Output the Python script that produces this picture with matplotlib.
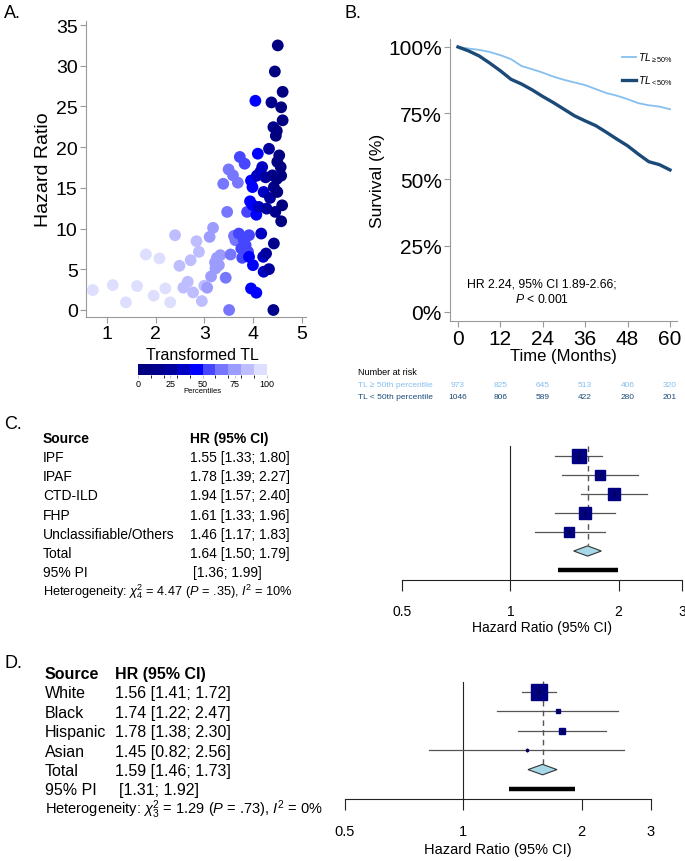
import numpy as np
import matplotlib
matplotlib.use("Agg")
import matplotlib.pyplot as plt
from matplotlib.colors import ListedColormap, BoundaryNorm
from matplotlib.cm import ScalarMappable
from matplotlib.lines import Line2D

plt.rcParams['font.family'] = ['Liberation Sans', 'DejaVu Sans']
plt.rcParams['mathtext.fontset'] = 'custom'
plt.rcParams['mathtext.rm'] = 'Liberation Sans'
plt.rcParams['mathtext.it'] = 'Liberation Sans:italic'
plt.rcParams['mathtext.bf'] = 'Liberation Sans:bold'

# ---- data: panel A (transformed TL vs hazard ratio) ----
tl_x = [0.71, 1.12, 1.39, 1.62, 1.80, 1.96, 2.08, 2.20, 2.30,
        2.40, 2.49, 2.57, 2.66, 2.72, 2.77, 2.84, 2.89, 2.95, 3.00,
        3.06, 3.11, 3.14, 3.18, 3.22, 3.26, 3.30, 3.33, 3.23,
        3.39, 3.47, 3.44, 3.51, 3.54, 3.50, 3.59, 3.69, 3.61, 3.64,
        3.73, 3.83, 3.71, 3.76, 3.78, 3.85, 3.88, 3.92, 3.90, 3.81,
        4.05, 3.96, 3.99, 3.94, 3.99, 3.92, 4.00, 3.96, 4.07, 4.07, 4.10,
        4.08, 4.15, 4.19, 4.22, 4.12, 4.17, 4.21, 4.22,
        4.26, 4.33, 4.27, 4.33, 4.28, 4.35,
        4.38, 4.42, 4.43, 4.42, 4.46, 4.40, 4.43,
        4.51, 4.45, 4.61, 4.58, 4.61, 4.49, 4.47, 4.54, 4.50, 4.57, 4.58, 4.50, 4.60, 4.58, 4.49]
tl_hr = [2.45, 3.06, 0.94, 2.94, 6.82, 1.76, 6.33, 2.65, 0.94,
         9.19, 5.43, 2.74, 3.47, 6.12, 2.16, 8.45, 7.14, 1.10, 2.98,
         2.74, 8.98, 4.12, 10.09, 5.84, 6.41, 5.51, 6.74, 5.10,
         15.5, 12.05, 3.96, 0.0, 6.82, 17.27, 16.54, 15.64, 9.1, 8.57,
         18.8, 17.97, 9.39, 7.55, 6.41, 7.96, 12.05, 9.19, 7.14, 8.57,
         25.7, 15.9, 15.1, 13.35, 12.9, 6.53, 5.51, 2.65, 2.12, 11.7, 19.2,
         16.5, 16.95, 17.56, 14.5, 12.66, 9.39, 6.53, 4.70,
         16.3, 19.8, 6.94, 5.02, 12.45, 13.76,
         25.5, 22.46, 8.17, 0.0, 12.05, 16.54, 15.1,
         32.5, 29.3, 26.8, 24.9, 23.3, 22.0, 21.4, 18.99, 18.2, 17.56, 16.5, 14.5, 12.86, 10.9, 16.1]
tl_decile = [9] * 9 + [8] * 10 + [7] * 9 + [6] * 10 + [5] * 10 + [4] * 11 + [3] * 8 + [2] * 6 + [1] * 7 + [0] * 15

# ---- data: panel B (Kaplan-Meier) ----
km_time = [0, 3, 6, 9, 12, 15, 18, 21, 24, 27, 30, 33, 36, 39, 42, 45, 48, 51, 54, 57, 60]
km_high = [100, 99.4, 98.9, 98.1, 96.9, 95.4, 92.8, 91.6, 90.3, 88.8, 87.6, 86.6, 85.6,
           84.1, 82.6, 81.6, 80.3, 78.8, 78.0, 77.5, 76.5]
km_low = [100, 98.5, 96.6, 93.9, 91.0, 87.8, 86.0, 83.8, 81.3, 79.0, 76.5, 74.0, 72.1,
          70.3, 67.8, 65.2, 62.7, 59.6, 56.7, 55.6, 53.6]
risk_time = [0, 12, 24, 36, 48, 60]
risk_high = [973, 825, 645, 513, 406, 320]
risk_low = [1046, 806, 589, 422, 280, 201]

# ---- data: panel C (ILD subtype meta-analysis) ----
c_source = ["IPF", "IPAF", "CTD-ILD", "FHP", "Unclassifiable/Others"]
c_hr = [1.55, 1.78, 1.94, 1.61, 1.46]
c_lo = [1.33, 1.39, 1.57, 1.33, 1.17]
c_hi = [1.80, 2.27, 2.40, 1.96, 1.83]
c_weight = [31.7, 13.1, 19.5, 19.5, 16.2]
c_total = [1.64, 1.50, 1.79]
c_pi = [1.36, 1.99]

# ---- data: panel D (race/ethnicity meta-analysis) ----
d_source = ["White", "Black", "Hispanic", "Asian"]
d_hr = [1.56, 1.74, 1.78, 1.45]
d_lo = [1.41, 1.22, 1.38, 0.82]
d_hi = [1.72, 2.47, 2.30, 2.56]
d_weight = [80.8, 5.0, 11.4, 2.8]
d_total = [1.59, 1.46, 1.73]
d_pi = [1.31, 1.92]

W, H = 685, 862
fig = plt.figure(figsize=(W / 100, H / 100), dpi=100)


def px_axes(x0, y0, x1, y1):
    return fig.add_axes([x0 / W, 1 - y1 / H, (x1 - x0) / W, (y1 - y0) / H])


def px_text(x, y, s, **kw):
    kw.setdefault('va', 'center')
    fig.text(x / W, 1 - y / H, s, **kw)


LIGHT = '#86bfee'
DARK = '#1b4a78'
GREY = '#9a9a9a'

# ================= A =================
px_text(4, 14, "A.", fontsize=13)
axA = px_axes(86, 22, 306, 318)
pal = ['#000080', '#00008c', '#00009e', '#0000c4', '#0000ff',
       '#4646ff', '#7676ff', '#9c9cff', '#bdbdff', '#dedeff']
cmap = ListedColormap(pal)
norm = BoundaryNorm(np.arange(0, 101, 10), cmap.N)
axA.scatter(tl_x, tl_hr, c=np.array(tl_decile) * 10 + 5, cmap=cmap, norm=norm,
            s=72, linewidths=0, zorder=3)
axA.set_xlim(0.57, 5.09)
axA.set_ylim(-0.86, 35.5)
axA.set_xticks([1, 2, 3, 4, 5])
axA.set_yticks(range(0, 36, 5))
for s in ['top', 'right']:
    axA.spines[s].set_visible(False)
for s in ['left', 'bottom']:
    axA.spines[s].set_color(GREY)
    axA.spines[s].set_linewidth(0.8)
axA.tick_params(labelsize=14, color=GREY, length=4, width=0.8, pad=2)
axA.set_ylabel("Hazard Ratio", fontsize=14, labelpad=3)
px_text(202, 356, "Transformed TL", fontsize=11.5, ha='center')

cax = px_axes(138, 365, 267, 376)
cb = fig.colorbar(ScalarMappable(norm=norm, cmap=cmap), cax=cax, orientation='horizontal')
cb.set_ticks([0, 25, 50, 75, 100])
cb.outline.set_visible(False)
cax.tick_params(labelsize=6.5, length=2, width=0.4, pad=1, color=GREY)
cb.set_label("Percentiles", fontsize=5.5, labelpad=-1)

# ================= B =================
px_text(344, 14, "B.", fontsize=13)
axB = px_axes(450, 40, 677, 322)
axB.plot(km_time, km_high, color=LIGHT, lw=1.3)
axB.plot(km_time, km_low, color=DARK, lw=2.4)
axB.set_xlim(-2.26, 61.98)
axB.set_ylim(-3.4, 103)
axB.set_xticks(risk_time)
axB.set_yticks([0, 25, 50, 75, 100])
axB.set_yticklabels([f"{v}%" for v in [0, 25, 50, 75, 100]])
for s in ['top', 'right']:
    axB.spines[s].set_visible(False)
for s in ['left', 'bottom']:
    axB.spines[s].set_color(GREY)
    axB.spines[s].set_linewidth(0.8)
axB.tick_params(labelsize=15, color=GREY, length=4, width=0.8, pad=2)
axB.set_xlabel("Time (Months)", fontsize=12, labelpad=0)
axB.set_ylabel("Survival (%)", fontsize=12.5, labelpad=2)
axB.text(0.405, 0.105, "HR 2.24, 95% CI 1.89-2.66;\n$P$ < 0.001", transform=axB.transAxes,
         ha='center', va='center', fontsize=8.8, linespacing=1.25)
handles = [Line2D([], [], color=LIGHT, lw=1.3), Line2D([], [], color=DARK, lw=2.4)]
axB.legend(handles, [r"$TL_{\geq 50\%}$", r"$TL_{< 50\%}$"], loc='upper left',
           bbox_to_anchor=(618 / W, 1 - 47 / H), bbox_transform=fig.transFigure,
           frameon=False, fontsize=7.5, handlelength=1.3, handletextpad=0.2,
           labelspacing=0.9, borderaxespad=0)

px_text(358, 373, "Number at risk", fontsize=6.5)
px_text(358, 386, "TL ≥ 50th percentile", fontsize=6, color=LIGHT)
px_text(358, 398, "TL < 50th percentile", fontsize=6, color=DARK)
tr = axB.get_xaxis_transform()
for t, a, b in zip(risk_time, risk_high, risk_low):
    xf = fig.transFigure.inverted().transform(tr.transform((t, 0)))[0] * W
    px_text(xf, 386, str(a), fontsize=6, color=LIGHT, ha='center')
    px_text(xf, 398, str(b), fontsize=6, color=DARK, ha='center')


# ================= forest helper =================
def forest(box, row0, dy, hr, lo, hi, wt, total, pi, max_side, fs, pad, lpad):
    x0, top, x1, bottom = box
    ax = px_axes(x0, top, x1, bottom)
    ax.set_xscale('log')
    ax.set_xlim(0.5, 3)
    n = len(hr)
    ax.set_ylim((bottom - row0) / dy, (top - row0) / dy)
    ax.plot([1, 1], [(top + 7 - row0) / dy, (bottom - row0) / dy], color='#222222', lw=0.8)
    ax.plot([total[0]] * 2, [-0.55, n - 0.3], color='#555555', lw=1.0, ls=(0, (4, 3)))
    wmax = max(wt)
    for i in range(n):
        ax.plot([lo[i], hi[i]], [i, i], color='#555555', lw=0.9, zorder=2)
        side = max_side * np.sqrt(wt[i] / wmax) / 1.389
        ax.plot(hr[i], i, marker='s', ms=side, color='#000080', mec='#000080', zorder=3)
        ax.plot(hr[i], i, marker='|', ms=3, color='black', mew=0.6, zorder=4)
    ax.fill([total[1], total[0], total[2], total[0]], [n, n - 0.27, n, n + 0.27],
            facecolor='#a6d8e8', edgecolor='#333333', lw=0.8, zorder=3)
    ax.plot(pi, [n + 1, n + 1], color='black', lw=3.2, solid_capstyle='butt')
    for s in ['top', 'right', 'left']:
        ax.spines[s].set_visible(False)
    ax.spines['bottom'].set_color('#222222')
    ax.spines['bottom'].set_linewidth(0.8)
    ax.set_yticks([])
    ax.minorticks_off()
    ax.set_xticks([0.5, 1, 2, 3])
    ax.set_xticklabels(["0.5", "1", "2", "3"])
    ax.tick_params(axis='x', which='both', labelsize=fs, length=8, width=0.8,
                   color='#222222', pad=pad)
    ax.tick_params(axis='x', which='minor', length=0)
    ax.set_xlabel("Hazard Ratio (95% CI)", fontsize=fs, labelpad=lpad)
    return ax


# ================= C =================
px_text(4, 425, "C.", fontsize=13)
fsC = 10
c_rows = [458 + 19.2 * i for i in range(8)]
px_text(43, c_rows[0] - 19.2, "Source", fontsize=fsC, fontweight='bold')
px_text(190, c_rows[0] - 19.2, "HR (95% CI)", fontsize=fsC, fontweight='bold')
for i, s in enumerate(c_source):
    px_text(43, c_rows[i], s, fontsize=fsC)
    px_text(190, c_rows[i], f"{c_hr[i]:.2f} [{c_lo[i]:.2f}; {c_hi[i]:.2f}]", fontsize=fsC)
k = len(c_source)
px_text(43, c_rows[k], "Total", fontsize=fsC)
px_text(190, c_rows[k], f"{c_total[0]:.2f} [{c_total[1]:.2f}; {c_total[2]:.2f}]", fontsize=fsC)
px_text(43, c_rows[k + 1], "95% PI", fontsize=fsC)
px_text(193, c_rows[k + 1], f"[{c_pi[0]:.2f}; {c_pi[1]:.2f}]", fontsize=fsC)
px_text(43, c_rows[k + 2] - 1, r"Heterogeneity: $\chi^2_4$ = 4.47 ($P$ = .35), $I^2$ = 10%",
        fontsize=fsC - 0.8)
forest((402, 440, 682, 581), 457, 19.0, c_hr, c_lo, c_hi, c_weight, c_total, c_pi, 15, 10, 9, 2)

# ================= D =================
px_text(4, 663, "D.", fontsize=13)
fsD = 11.5
d_rows = [694 + 19.4 * i for i in range(7)]
px_text(45, d_rows[0] - 19.4, "Source", fontsize=fsD, fontweight='bold')
px_text(115, d_rows[0] - 19.4, "HR (95% CI)", fontsize=fsD, fontweight='bold')
for i, s in enumerate(d_source):
    px_text(45, d_rows[i], s, fontsize=fsD)
    px_text(115, d_rows[i], f"{d_hr[i]:.2f} [{d_lo[i]:.2f}; {d_hi[i]:.2f}]", fontsize=fsD)
k = len(d_source)
px_text(45, d_rows[k], "Total", fontsize=fsD)
px_text(115, d_rows[k], f"{d_total[0]:.2f} [{d_total[1]:.2f}; {d_total[2]:.2f}]", fontsize=fsD)
px_text(45, d_rows[k + 1], "95% PI", fontsize=fsD)
px_text(119, d_rows[k + 1], f"[{d_pi[0]:.2f}; {d_pi[1]:.2f}]", fontsize=fsD)
px_text(45, d_rows[k + 2] - 1, r"Heterogeneity: $\chi^2_3$ = 1.29 ($P$ = .73), $I^2$ = 0%",
        fontsize=fsD - 1)
forest((345, 676, 651, 800), 693, 19.4, d_hr, d_lo, d_hi, d_weight, d_total, d_pi, 16, 10.5, 10, 3)

fig.savefig("out.png", dpi=100)
